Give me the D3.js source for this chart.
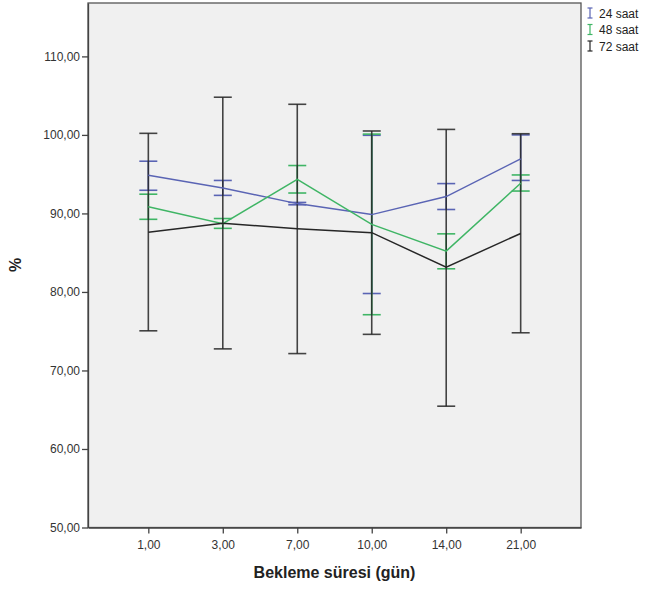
<!DOCTYPE html>
<html><head><meta charset="utf-8">
<script src="https://cdn.jsdelivr.net/npm/d3@7"></script>
<style>body{margin:0;background:#fff}svg{display:block}</style>
</head><body>
<script>
const categories = ["1,00","3,00","7,00","10,00","14,00","21,00"];
const yTicks = [50,60,70,80,90,100,110];
const seriesNames = ["24 saat","48 saat","72 saat"];
const seriesColors = ["#5a64b4","#3fb565","#262626"];
// means and error bar bounds per series
const mean24 = [94.85, 93.25, 91.25, 89.85, 92.15, 96.95];
const low24  = [92.95, 92.3, 91.1, 79.8, 90.5, 94.2];
const high24 = [96.65, 94.2, 91.4, 99.95, 93.8, 100.0];
const mean48 = [90.85, 88.7, 94.35, 88.6, 85.2, 93.85];
const low48  = [89.25, 88.1, 92.6, 77.1, 82.95, 92.85];
const high48 = [92.45, 89.35, 96.1, 100.1, 87.4, 94.9];
const mean72 = [87.6, 88.75, 88.05, 87.55, 83.15, 87.45];
const low72  = [75.05, 72.75, 72.15, 74.6, 65.45, 74.8];
const high72 = [100.2, 104.8, 103.9, 100.5, 100.7, 100.15];

const means = [mean24, mean48, mean72];
const lows = [low24, low48, low72];
const highs = [high24, high48, high72];

const W = 647, H = 589;
const L = 88, R = 581, T = 3, B = 527.5;
const svg = d3.select("body").append("svg").attr("width", W).attr("height", H);

const x = d3.scalePoint().domain(categories).range([L, R]).padding(0.81);
const y = d3.scaleLinear().domain([50, 116.8]).range([B, T]);

svg.append("rect").attr("x", L).attr("y", T).attr("width", R - L).attr("height", B - T)
  .attr("fill", "#f0f0f0").attr("stroke", "#555").attr("stroke-width", 1.3);

const fmt = d => d3.format(".2f")(d).replace(".", ",");

const yAxis = svg.append("g").attr("transform", `translate(${L},0)`)
  .call(d3.axisLeft(y).tickValues(yTicks).tickFormat(fmt).tickSizeInner(6).tickSizeOuter(0).tickPadding(2));
const xAxis = svg.append("g").attr("transform", `translate(0,${B})`)
  .call(d3.axisBottom(x).tickSizeInner(6).tickSizeOuter(0).tickPadding(7));
[yAxis, xAxis].forEach(g => {
  g.select(".domain").attr("stroke", "#444").attr("stroke-width", 1.3);
  g.selectAll(".tick line").attr("stroke", "#444").attr("stroke-width", 1.3);
  g.selectAll(".tick text").attr("fill", "#333").style("font-family", "Liberation Sans, Arial, sans-serif").style("font-size", "12px");
});

const capW = 9;
const plot = svg.append("g");
seriesNames.forEach((name, s) => {
  const g = plot.append("g");
  const col = seriesColors[s];
  // error bars
  categories.forEach((c, i) => {
    const cx = x(c);
    g.append("line").attr("x1", cx).attr("x2", cx).attr("y1", y(lows[s][i])).attr("y2", y(highs[s][i]))
      .attr("stroke", col).attr("stroke-width", 1.6).attr("opacity", s === 2 ? 0.85 : 1);
    [lows[s][i], highs[s][i]].forEach(v => {
      g.append("line").attr("x1", cx - capW).attr("x2", cx + capW).attr("y1", y(v)).attr("y2", y(v))
        .attr("stroke", col).attr("stroke-width", 1.6).attr("opacity", s === 2 ? 0.85 : 1);
    });
  });
});
seriesNames.forEach((name, s) => {
  const line = d3.line().x((d, i) => x(categories[i])).y(d => y(d));
  plot.append("path").datum(means[s]).attr("d", line).attr("fill", "none")
    .attr("stroke", seriesColors[s]).attr("stroke-width", 1.5);
});

// axis titles
svg.append("text").attr("x", (L + R) / 2).attr("y", 578).attr("text-anchor", "middle")
  .style("font-family", "Liberation Sans, Arial, sans-serif").style("font-size", "16px").style("font-weight", "bold")
  .attr("fill", "#222").text("Bekleme süresi (gün)");
svg.append("text").attr("transform", "translate(21,265) rotate(-90)").attr("text-anchor", "middle")
  .style("font-family", "Liberation Sans, Arial, sans-serif").style("font-size", "16px").style("font-weight", "bold")
  .attr("fill", "#222").text("%");

// legend
const leg = svg.append("g");
seriesNames.forEach((name, s) => {
  const cy = 13 + s * 16.5;
  const gx = 590;
  const col = seriesColors[s];
  leg.append("line").attr("x1", gx).attr("x2", gx).attr("y1", cy - 5).attr("y2", cy + 5).attr("stroke", col).attr("stroke-width", 1.2);
  [cy - 5, cy + 5].forEach(yy => leg.append("line").attr("x1", gx - 2.5).attr("x2", gx + 2.5).attr("y1", yy).attr("y2", yy).attr("stroke", col).attr("stroke-width", 1.2));
  leg.append("text").attr("x", 599).attr("y", cy + 4.5)
    .style("font-family", "Liberation Sans, Arial, sans-serif").style("font-size", "12px").attr("fill", "#222").text(name);
});
</script>
</body></html>
